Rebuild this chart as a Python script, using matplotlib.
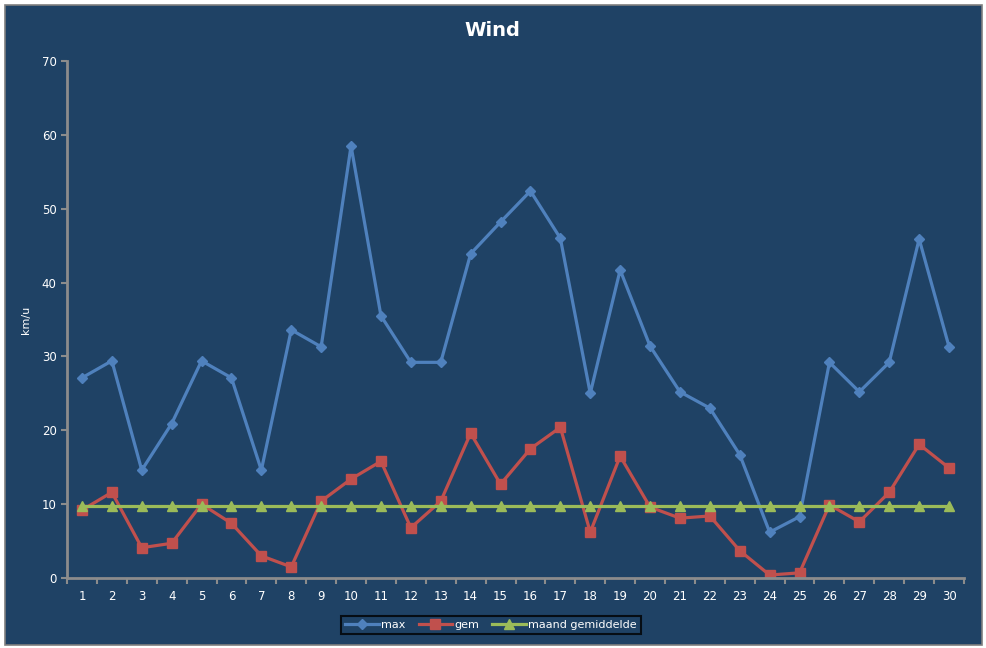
import numpy as np
import matplotlib.pyplot as plt
from matplotlib.patches import Rectangle

# data
days = list(range(1, 31))
max_wind = [27.1, 29.4, 14.6, 20.9, 29.4, 27.1, 14.6, 33.6, 31.3, 58.5,
            35.5, 29.2, 29.2, 43.9, 48.2, 52.4, 46.0, 25.0, 41.7, 31.4,
            25.2, 23.0, 16.7, 6.2, 8.3, 29.2, 25.2, 29.2, 45.9, 31.3]
gem_wind = [9.2, 11.6, 4.1, 4.7, 10.0, 7.4, 3.0, 1.5, 10.4, 13.4,
            15.8, 6.8, 10.4, 19.6, 12.7, 17.5, 20.4, 6.2, 16.5, 9.6,
            8.1, 8.4, 3.7, 0.4, 0.7, 9.9, 7.6, 11.6, 18.1, 14.9]
maand_gem = [9.8] * 30

bg = '#1F4265'
axis_col = '#8C8C8C'
txt = 'white'

fig = plt.figure(figsize=(9.87, 6.48), dpi=100)
fig.patch.set_facecolor('white')
fig.patches.append(Rectangle((5/987, 3/648), 977/987, 640/648, transform=fig.transFigure,
                             facecolor=bg, edgecolor='#7F7F7F', lw=1.2, zorder=-1))

ax = fig.add_axes([67/987, 1 - 578/648, (964 - 67)/987, (578 - 61)/648])
ax.set_facecolor(bg)

ax.plot(days, max_wind, color='#4F81BD', lw=2.3, marker='D', ms=5, label='max')
ax.plot(days, gem_wind, color='#C0504D', lw=2.3, marker='s', ms=7, label='gem')
ax.plot(days, maand_gem, color='#9BBB59', lw=2.3, marker='^', ms=7, label='maand gemiddelde')

ax.set_xlim(0.5, 30.5)
ax.set_ylim(0, 70)
ax.set_yticks(range(0, 71, 10))
ax.set_xticks(days)
ax.set_xticks(np.arange(0.5, 31, 1), minor=True)
ax.tick_params(axis='x', which='major', length=0, colors=txt, labelsize=8.5, pad=9)
ax.tick_params(axis='x', which='minor', length=4, color=axis_col, direction='out', width=1.5)
ax.tick_params(axis='y', length=4, color=axis_col, colors=txt, labelsize=8.5, direction='out', width=1.5)
for s in ['top', 'right']:
    ax.spines[s].set_visible(False)
for s in ['left', 'bottom']:
    ax.spines[s].set_color(axis_col)
    ax.spines[s].set_linewidth(2)

ax.set_ylabel('km/u', color=txt, fontsize=8)
ax.yaxis.set_label_coords(-0.04, 0.5)

fig.text(492/987, 1 - 31/648, 'Wind', color=txt, fontsize=14, fontweight='bold',
         ha='center', va='center')

leg = fig.legend(loc='center', bbox_to_anchor=(491/987, 1 - 625/648), ncol=3,
                 frameon=True, fontsize=8, handlelength=3.0, columnspacing=1.2,
                 handletextpad=0.2, borderpad=0.4, fancybox=False)
leg.get_frame().set_facecolor(bg)
leg.get_frame().set_edgecolor('black')
leg.get_frame().set_linewidth(1.5)
for t in leg.get_texts():
    t.set_color(txt)

fig.savefig('out.png', dpi=100, facecolor=fig.get_facecolor())
